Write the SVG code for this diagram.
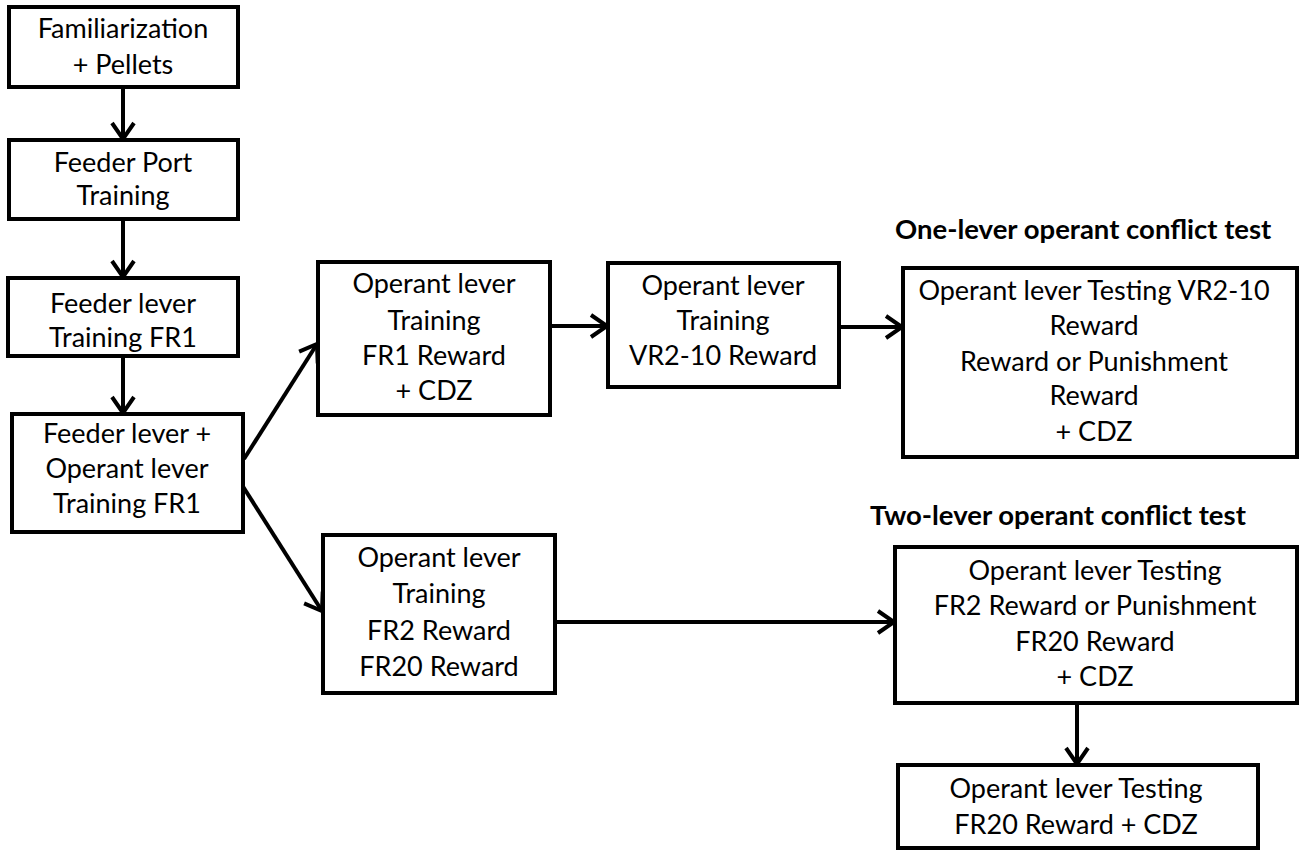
<svg xmlns="http://www.w3.org/2000/svg" width="1304" height="851" viewBox="0 0 1304 851">
<defs>
<marker id="arr" markerUnits="userSpaceOnUse" markerWidth="40" markerHeight="40" refX="0" refY="0" viewBox="-20 -20 40 40" orient="auto" overflow="visible">
<path d="M-16,-11 L0,0 L-16,11" fill="none" stroke="#000" stroke-width="4" stroke-linejoin="miter"/>
</marker>
<style>
.box{fill:#fff;stroke:#000;stroke-width:4}
.t{font-family:Lato,"Liberation Sans",sans-serif;font-size:27px;fill:#000;text-anchor:middle}
.h{font-family:Lato,"Liberation Sans",sans-serif;font-size:27.5px;font-weight:bold;fill:#000}
.c{fill:none;stroke:#000;stroke-width:4;marker-end:url(#arr)}
</style>
</defs>
<rect width="1304" height="851" fill="#fff"/>
<g id="connectors">
<line class="c" x1="123" y1="87" x2="123" y2="139"/>
<line class="c" x1="123" y1="219" x2="123" y2="277"/>
<line class="c" x1="123" y1="356" x2="123" y2="413"/>
<line class="c" x1="244" y1="459" x2="317" y2="344"/>
<line class="c" x1="242" y1="485" x2="322" y2="611"/>
<line class="c" x1="550" y1="326" x2="607" y2="326"/>
<line class="c" x1="839" y1="327" x2="902" y2="327"/>
<line class="c" x1="555" y1="622" x2="894" y2="622"/>
<line class="c" x1="1077" y1="703" x2="1077" y2="764"/>
</g>
<g id="n1"><rect class="box" x="9" y="7" width="229" height="80"/><text class="t" x="123" y="38">Familiarization</text><text class="t" x="123" y="74">+ Pellets</text></g>
<g id="n2"><rect class="box" x="9" y="140" width="229" height="79"/><text class="t" x="123" y="172">Feeder Port</text><text class="t" x="123" y="205">Training</text></g>
<g id="n3"><rect class="box" x="8" y="278" width="230" height="78"/><text class="t" x="123" y="313">Feeder lever</text><text class="t" x="123" y="347">Training FR1</text></g>
<g id="n4"><rect class="box" x="12" y="414" width="231" height="118"/><text class="t" x="127" y="443">Feeder lever +</text><text class="t" x="127" y="478">Operant lever</text><text class="t" x="127" y="513">Training FR1</text></g>
<g id="n5"><rect class="box" x="318" y="262" width="232" height="153"/><text class="t" x="434" y="293">Operant lever</text><text class="t" x="434" y="330">Training</text><text class="t" x="434" y="365">FR1 Reward</text><text class="t" x="434" y="400">+ CDZ</text></g>
<g id="n6"><rect class="box" x="608" y="263" width="231" height="124"/><text class="t" x="723" y="295">Operant lever</text><text class="t" x="723" y="330">Training</text><text class="t" x="723" y="365">VR2-10 Reward</text></g>
<g id="n7"><text class="h" x="895" y="239">One-lever operant conflict test</text><rect class="box" x="903" y="268" width="394" height="189"/><text class="t" x="1094" y="300">Operant lever Testing VR2-10</text><text class="t" x="1094" y="335">Reward</text><text class="t" x="1094" y="371">Reward or Punishment</text><text class="t" x="1094" y="405">Reward</text><text class="t" x="1094" y="441">+ CDZ</text></g>
<g id="n8"><rect class="box" x="323" y="535" width="232" height="158"/><text class="t" x="439" y="567">Operant lever</text><text class="t" x="439" y="603">Training</text><text class="t" x="439" y="640">FR2 Reward</text><text class="t" x="439" y="676">FR20 Reward</text></g>
<g id="n9"><text class="h" x="870" y="525">Two-lever operant conflict test</text><rect class="box" x="895" y="547" width="402" height="156"/><text class="t" x="1095" y="580">Operant lever Testing</text><text class="t" x="1095" y="615">FR2 Reward or Punishment</text><text class="t" x="1095" y="651">FR20 Reward</text><text class="t" x="1095" y="686">+ CDZ</text></g>
<g id="n10"><rect class="box" x="898" y="765" width="360" height="83"/><text class="t" x="1076" y="798">Operant lever Testing</text><text class="t" x="1076" y="834">FR20 Reward + CDZ</text></g>
</svg>
